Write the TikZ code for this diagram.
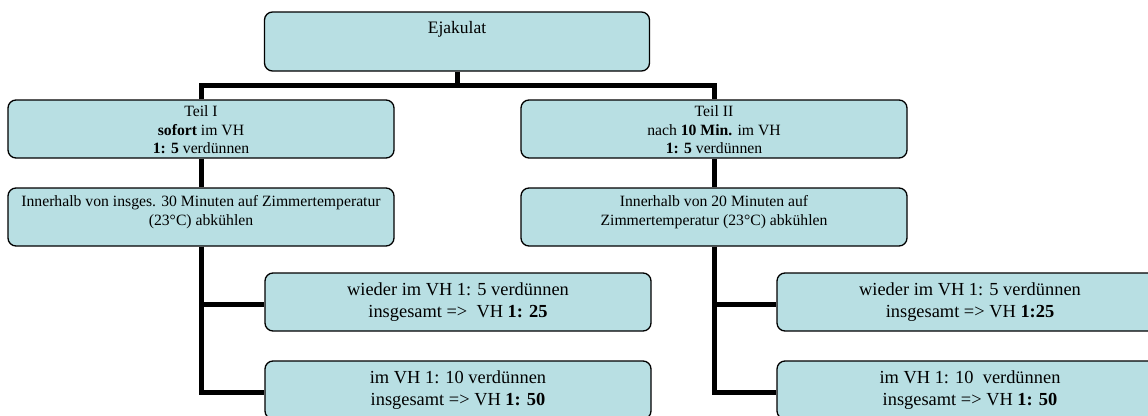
\documentclass[tikz,border=0pt]{standalone}
\usepackage{fontspec}
\setmainfont{Liberation Serif}
\definecolor{boxfill}{HTML}{B8DFE3}
\begin{document}
\begin{tikzpicture}[x=1pt,y=-1pt,
  box/.style={draw=black, line width=1.3pt, fill=boxfill, rounded corners=8pt,
    minimum width=386pt, minimum height=58pt, inner sep=0pt, align=center},
  small/.style={font=\fontsize{15.7}{18.5}\selectfont},
  big/.style={font=\fontsize{18.4}{22}\selectfont},
  conn/.style={draw=black, line width=5pt, line join=miter},
  txt/.style={inner sep=0pt, align=center}]
\clip (0,0) rectangle (1148,415);
\useasboundingbox (0,0) rectangle (1148,415);
\coordinate (bar) at (457,85);
% box positions
\path
  (457,41.5) coordinate (ptop)
  (201,129) coordinate (pt1)
  (714,129) coordinate (pt2)
  (201,217) coordinate (pc1)
  (714,217) coordinate (pc2)
  (458,304) coordinate (pl1)
  (458,392) coordinate (pl2)
  (970,304) coordinate (pr1)
  (970,392) coordinate (pr2);
% invisible anchors for connectors (boxes drawn later on top)
\node[box, draw=none, fill=none, minimum width=385pt, minimum height=59pt] (top) at (ptop) {};
\node[box, draw=none, fill=none] (t1) at (pt1) {};
\node[box, draw=none, fill=none] (t2) at (pt2) {};
\node[box, draw=none, fill=none] (c1) at (pc1) {};
\node[box, draw=none, fill=none] (c2) at (pc2) {};
\node[box, draw=none, fill=none] (l1) at (pl1) {};
\node[box, draw=none, fill=none] (l2) at (pl2) {};
\node[box, draw=none, fill=none] (r1) at (pr1) {};
\node[box, draw=none, fill=none] (r2) at (pr2) {};
% connectors
\draw[conn] (top.south) -- (top.south |- bar);
\draw[conn] (t1.north) -- (t1.north |- bar) -- (t2.north |- bar) -- (t2.north);
\draw[conn] (t1.south) -- (c1.north);
\draw[conn] (t2.south) -- (c2.north);
\draw[conn] (c1.south) |- (l1.west);
\draw[conn] (c1.south) |- (l2.west);
\draw[conn] (c2.south) |- (r1.west);
\draw[conn] (c2.south) |- (r2.west);
% visible boxes
\node[box, minimum width=385pt, minimum height=59pt] (topbox) at (ptop) {};
\node[box] (t1box) at (pt1) {};
\node[box] (t2box) at (pt2) {};
\node[box] (c1box) at (pc1) {};
\node[box] (c2box) at (pc2) {};
\node[box, big, yshift=2pt] (l1box) at (pl1) {wieder im VH 1: 5 verdünnen\\ insgesamt =>\ \ VH \textbf{1: 25}};
\node[box, big, yshift=2pt] (l2box) at (pl2) {im VH 1: 10 verdünnen\\ insgesamt => VH \textbf{1: 50}};
\node[box, big, yshift=2pt] (r1box) at (pr1) {wieder im VH 1: 5 verdünnen\\ insgesamt => VH \textbf{1:25}};
\node[box, big, yshift=2pt] (r2box) at (pr2) {im VH 1: 10\ \ verdünnen\\ insgesamt => VH \textbf{1: 50}};
% texts
\node[txt, anchor=base, font=\fontsize{17.5}{21}\selectfont] (toptxt) at ([yshift=-22pt]topbox.north) {Ejakulat};
\node[txt, small] (t1txt) at ([yshift=-1pt]t1box.center) {Teil I\\ \textbf{sofort} im VH\\ \textbf{1: 5} verdünnen};
\node[txt, small] (t2txt) at ([yshift=-1pt]t2box.center) {Teil II\\ nach \textbf{10 Min.} im VH\\ \textbf{1: 5} verdünnen};
\node[txt, small, anchor=north] (c1txt) at ([yshift=-8pt]c1box.north) {Innerhalb von insges. 30 Minuten auf Zimmertemperatur\\ (23°C) abkühlen};
\node[txt, small, anchor=north] (c2txt) at ([yshift=-8pt]c2box.north) {Innerhalb von 20 Minuten auf\\ Zimmertemperatur (23°C) abkühlen};
\end{tikzpicture}
\end{document}
